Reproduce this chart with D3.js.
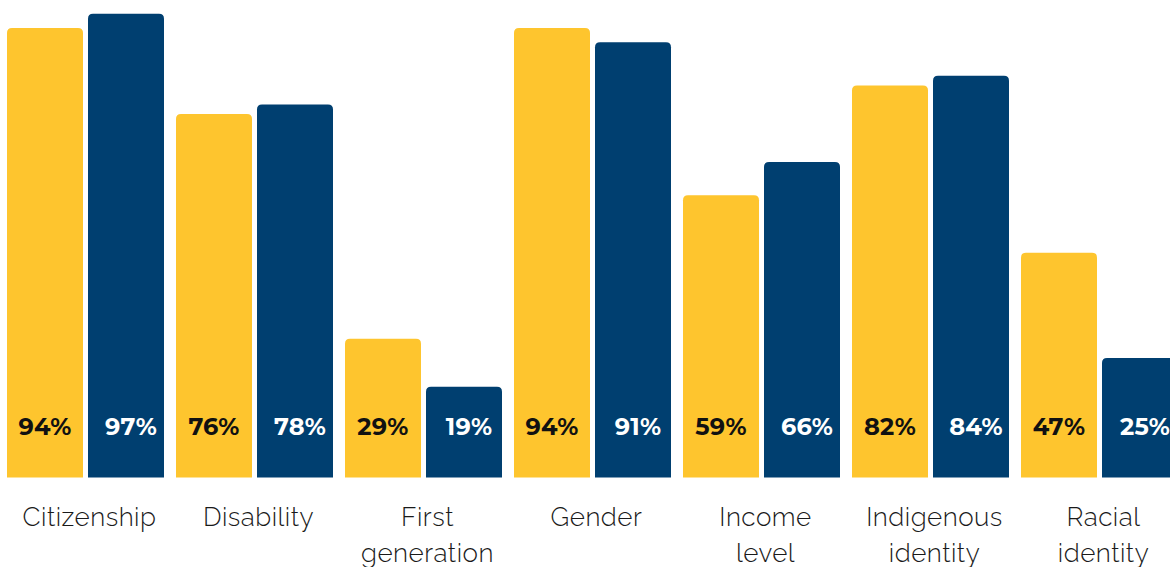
<!DOCTYPE html>
<html>
<head>
<meta charset="utf-8">
<script src="https://cdn.jsdelivr.net/npm/d3@7"></script>
<style>
  html, body { margin: 0; padding: 0; background: #fff; overflow: hidden; }
  svg { display: block; }
  .cat { font-family: Raleway, Lato, sans-serif; font-weight: 300; font-size: 26px; letter-spacing: 0.5px; fill: #1a1a1a; }
  .val { font-family: Montserrat, Lato, sans-serif; font-weight: 700; font-size: 24px; letter-spacing: 0.3px; }
</style>
</head>
<body>
<svg id="chart" width="1170" height="567"></svg>
<script>
var categories = ['Citizenship', 'Disability', 'First generation', 'Gender', 'Income level', 'Indigenous identity', 'Racial identity'];
var seriesNames = ['first', 'second'];
var firstValues = [94, 76, 29, 94, 59, 82, 47];
var secondValues = [97, 78, 19, 91, 66, 84, 25];
var colors = ['#FEC52E', '#003F70'];
var labelColors = ['#111111', '#ffffff'];

var svg = d3.select('#chart');

// scales
var x0 = d3.scaleBand()
  .domain(categories)
  .range([7, 1178])
  .paddingInner(12 / 169)
  .paddingOuter(0);

var x1 = d3.scaleBand()
  .domain(seriesNames)
  .range([0, x0.bandwidth()])
  .paddingInner(5 / 81);

var y = d3.scaleLinear()
  .domain([0, 100])
  .range([477.5, -0.7]);

var rows = categories.map(function (c, i) {
  return { cat: c, vals: [firstValues[i], secondValues[i]] };
});

// bar with rounded top corners only
function topRounded(x, yTop, w, yBase, r) {
  return 'M' + x + ',' + yBase +
    'V' + (yTop + r) +
    'Q' + x + ',' + yTop + ' ' + (x + r) + ',' + yTop +
    'H' + (x + w - r) +
    'Q' + (x + w) + ',' + yTop + ' ' + (x + w) + ',' + (yTop + r) +
    'V' + yBase + 'Z';
}

var groups = svg.selectAll('g.grp')
  .data(rows)
  .enter()
  .append('g')
  .attr('class', 'grp')
  .attr('transform', d => 'translate(' + x0(d.cat) + ',0)');

groups.selectAll('path')
  .data(d => d.vals.map((v, i) => ({ key: seriesNames[i], v: v, i: i })))
  .enter()
  .append('path')
  .attr('d', d => topRounded(x1(d.key), y(d.v), x1.bandwidth(), y(0), 5))
  .style('fill', d => colors[d.i]);

groups.selectAll('text.val')
  .data(d => d.vals.map((v, i) => ({ key: seriesNames[i], v: v, i: i })))
  .enter()
  .append('text')
  .attr('class', 'val')
  .attr('x', d => x1(d.key) + x1.bandwidth() / 2 + (d.i == 1 ? 5 : 0))
  .attr('y', 435)
  .attr('text-anchor', 'middle')
  .style('fill', d => labelColors[d.i])
  .text(d => d.v + '%');

// category labels, one word per line
var cat = groups.append('text')
  .attr('class', 'cat')
  .attr('x', x0.bandwidth() / 2 + 4)
  .attr('y', 526)
  .attr('text-anchor', 'middle');

cat.selectAll('tspan')
  .data(d => d.cat.split(' '))
  .enter()
  .append('tspan')
  .attr('x', x0.bandwidth() / 2 + 4)
  .attr('dy', (d, i) => i == 0 ? 0 : 36)
  .text(d => d);
</script>
</body>
</html>
